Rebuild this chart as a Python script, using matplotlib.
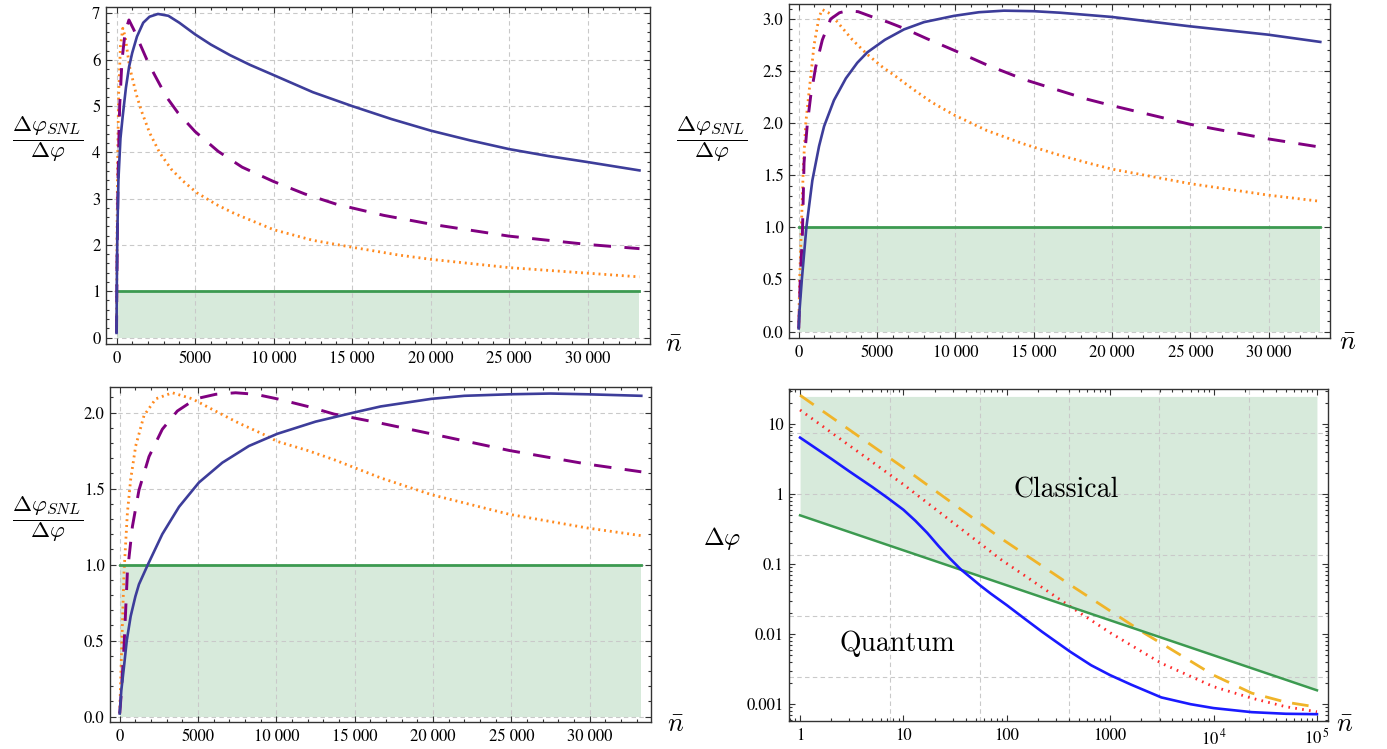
import matplotlib
matplotlib.use("Agg")
import matplotlib.pyplot as plt
from matplotlib.ticker import MultipleLocator, FixedLocator, FuncFormatter, LogLocator, NullFormatter
import numpy as np

# ---------------- data ----------------
# Panel A (top-left)
a_blue_n = [0, 15, 50, 120, 250, 400, 600, 800, 1000, 1300, 1700, 2100, 2640, 3300, 4000, 5000, 6000, 7225, 8500,
            10000, 12500, 15000, 17500, 20000, 22500, 25000, 27500, 30000, 33300]
a_blue_y = [0.1, 1.0, 2.2, 3.4, 4.3, 4.8, 5.4, 5.85, 6.15, 6.5, 6.8, 6.93, 6.99, 6.95, 6.8, 6.55, 6.33, 6.1, 5.89,
            5.67, 5.3, 5.0, 4.72, 4.47, 4.26, 4.07, 3.92, 3.79, 3.61]
a_purp_n = [0, 30, 100, 200, 350, 550, 790, 1100, 1470, 2000, 2430, 3175, 3920, 5000, 6480, 8000, 10000, 12000,
            14000, 17000, 20000, 25000, 30000, 33300]
a_purp_y = [0.1, 1.5, 3.5, 5.0, 6.0, 6.6, 6.86, 6.65, 6.36, 5.95, 5.67, 5.2, 4.85, 4.45, 4.02, 3.68, 3.37, 3.1,
            2.88, 2.64, 2.45, 2.19, 2.01, 1.92]
a_oran_n = [0, 20, 60, 130, 250, 400, 550, 830, 1260, 1580, 2110, 2750, 3500, 4240, 5100, 6370, 7500, 10000,
            12500, 15000, 18000, 20000, 25000, 30000, 33300]
a_oran_y = [0.1, 1.5, 3.5, 5.2, 6.3, 6.68, 6.5, 5.85, 5.25, 4.9, 4.42, 3.99, 3.63, 3.38, 3.13, 2.87, 2.68, 2.33,
            2.1, 1.95, 1.78, 1.69, 1.51, 1.39, 1.31]

# Panel B (top-right)
b_blue_n = [0, 50, 200, 490, 870, 1300, 1620, 2250, 3010, 3740, 4380, 5500, 6720, 8000, 9910, 11500, 13100,
            15000, 16720, 19970, 24970, 29950, 33300]
b_blue_y = [0.03, 0.2, 0.5, 1.0, 1.45, 1.78, 1.97, 2.22, 2.43, 2.58, 2.68, 2.8, 2.9, 2.97, 3.03, 3.065, 3.08,
            3.075, 3.06, 3.02, 2.93, 2.85, 2.78]
b_purp_n = [0, 100, 236, 340, 555, 765, 1085, 1510, 2040, 2600, 3110, 3800, 4700, 5700, 6720, 8200, 9910, 12000,
            14380, 16500, 18420, 19970, 24970, 29950, 33300]
b_purp_y = [0.03, 0.5, 0.94, 1.62, 2.0, 2.26, 2.54, 2.8, 3.0, 3.06, 3.08, 3.07, 3.02, 2.97, 2.91, 2.81, 2.70,
            2.56, 2.42, 2.32, 2.23, 2.17, 1.99, 1.85, 1.77]
b_oran_n = [0, 60, 170, 300, 450, 660, 980, 1300, 1510, 1900, 2360, 3430, 4380, 5340, 6190, 7260, 8500, 9910,
            12000, 14380, 16500, 18420, 19970, 24970, 29950, 33300]
b_oran_y = [0.03, 0.5, 1.0, 1.6, 2.0, 2.3, 2.75, 3.02, 3.09, 3.06, 2.99, 2.80, 2.66, 2.54, 2.45, 2.33, 2.2, 2.08,
            1.93, 1.80, 1.70, 1.62, 1.56, 1.42, 1.31, 1.25]

# Panel C (bottom-left)
c_blue_n = [0, 100, 275, 450, 700, 1000, 1230, 1800, 2720, 3790, 5060, 6550, 8250, 10060, 12500, 14950, 16660,
            19890, 22000, 24890, 27500, 29890, 33300]
c_blue_y = [0.02, 0.17, 0.33, 0.5, 0.66, 0.79, 0.87, 1.0, 1.2, 1.38, 1.54, 1.67, 1.78, 1.86, 1.94, 2.0, 2.04,
            2.09, 2.11, 2.12, 2.125, 2.12, 2.11]
c_purp_n = [0, 100, 275, 490, 810, 1230, 1870, 2720, 3680, 4850, 6130, 7400, 8680, 10060, 12000, 13680, 16660,
            19890, 24890, 29890, 33300]
c_purp_y = [0.02, 0.15, 0.46, 0.95, 1.25, 1.49, 1.71, 1.89, 2.01, 2.09, 2.12, 2.13, 2.12, 2.09, 2.04, 1.99, 1.93,
            1.86, 1.75, 1.66, 1.61]
c_oran_n = [0, 80, 170, 275, 490, 700, 1020, 1550, 2300, 3360, 4640, 5920, 7610, 9110, 10060, 12000, 13680,
            16660, 19890, 24890, 29890, 33300]
c_oran_y = [0.02, 0.3, 0.6, 0.95, 1.34, 1.56, 1.78, 1.98, 2.09, 2.13, 2.09, 2.02, 1.93, 1.86, 1.81, 1.75, 1.69,
            1.57, 1.46, 1.33, 1.24, 1.19]

snl_n = [0, 33300]
snl_y = [1.0, 1.0]

# Panel D (bottom-right, log-log)
d_blue_n = [1, 1.5, 2, 3, 5, 7, 10, 13, 17, 22, 28, 35.7, 45, 56, 70, 100, 150, 220, 300, 412, 655, 1000, 1600,
            3126, 6000, 10000, 23400, 50000, 100000]
d_blue_y = [6.45, 4.3, 3.22, 2.12, 1.27, 0.89, 0.6, 0.42, 0.28, 0.18, 0.122, 0.085, 0.064, 0.049, 0.038, 0.026,
            0.0165, 0.0108, 0.0078, 0.0056, 0.0036, 0.0026, 0.0019, 0.00125, 0.001, 0.00088, 0.00077, 0.00073,
            0.00072]
d_red_n = [1, 10, 87.6, 412, 1000, 3126, 10000, 23400, 50000, 100000]
d_red_y = [16, 1.38, 0.117, 0.0248, 0.0105, 0.00385, 0.00178, 0.00122, 0.00092, 0.00078]
d_oran_n = [1, 10, 87.6, 412, 2150, 3126, 10000, 23400, 50000, 100000]
d_oran_y = [26, 2.4, 0.235, 0.0506, 0.0103, 0.0074, 0.0026, 0.00144, 0.00107, 0.00091]
d_snl_n = [1, 100000]
d_snl_y = [0.5, 0.00158]
d_fill_top = 25.0

x_lin_ticks = [0, 5000, 10000, 15000, 20000, 25000, 30000]
x_log_ticks = [1, 10, 100, 1000, 1e4, 1e5]
x_log_labels = ["1", "10", "100", "1000", r"$10^{\,4}$", r"$10^{\,5}$"]
y_log_ticks = [0.001, 0.01, 0.1, 1, 10]
y_log_labels = ["0.001", "0.01", "0.1", "1", "10"]

# ---------------- style ----------------
C_BLUE = "#3d3d9a"
C_PURP = "#800080"
C_ORAN = "#ff8a1f"
C_GREEN = "#3c9a50"
C_FILL = "#d7eadb"
C_GRID = "#c9c9c9"
C_FRAME = "#333333"
TICKFONT = "STIXGeneral"

W, H = 1387, 749
fig = plt.figure(figsize=(W / 100, H / 100), dpi=100)


def px_rect(l, t, r, b):
    return [l / W, 1 - b / H, (r - l) / W, (b - t) / H]


def style_axes(ax):
    for s in ax.spines.values():
        s.set_color(C_FRAME)
        s.set_linewidth(1.0)
    ax.tick_params(which="both", direction="in", top=True, right=True, colors=C_FRAME,
                   labelcolor="black", labelsize=12, width=0.8)
    ax.tick_params(which="major", length=4)
    ax.tick_params(which="minor", length=2.2)
    ax.tick_params(axis="x", pad=5)
    ax.tick_params(axis="y", pad=4)
    for lab in ax.get_xticklabels() + ax.get_yticklabels():
        lab.set_fontfamily(TICKFONT)


def grid_lines(ax, xs, ys):
    for x in xs:
        ax.axvline(x, color=C_GRID, lw=0.8, ls=(0, (4, 3)), zorder=1)
    for y in ys:
        ax.axhline(y, color=C_GRID, lw=0.8, ls=(0, (4, 3)), zorder=1)


def xfmt(v, pos):
    v = int(round(v))
    if v >= 10000:
        return "%d %03d" % (v // 1000, v % 1000)
    return "%d" % v


def linear_panel(rect, xlim, ylim, ymajor, yminor, yfmt, blue, purp, oran):
    ax = fig.add_axes(rect)
    ax.set_xlim(*xlim)
    ax.set_ylim(*ylim)
    ax.fill_between(snl_n, [0, 0], snl_y, color=C_FILL, lw=0, zorder=0.5)
    yt = np.arange(0, ylim[1] + 1e-9, ymajor)
    grid_lines(ax, x_lin_ticks, yt)
    ax.plot(*oran, color=C_ORAN, lw=2.0, ls=(0, (0.7, 1.4)), zorder=3)
    ax.plot(*purp, color=C_PURP, lw=2.1, ls=(0, (6, 4.6)), zorder=3.2)
    ax.plot(*blue, color=C_BLUE, lw=1.9, zorder=3.4)
    ax.plot(snl_n, snl_y, color=C_GREEN, lw=2.0, zorder=3.1)
    ax.xaxis.set_major_locator(FixedLocator(x_lin_ticks))
    ax.xaxis.set_minor_locator(MultipleLocator(1000))
    ax.xaxis.set_major_formatter(FuncFormatter(xfmt))
    ax.yaxis.set_major_locator(MultipleLocator(ymajor))
    ax.yaxis.set_minor_locator(MultipleLocator(yminor))
    ax.yaxis.set_major_formatter(FuncFormatter(yfmt))
    style_axes(ax)
    return ax


int_fmt = lambda v, p: "%d" % round(v)
dec_fmt = lambda v, p: "%.1f" % v

axA = linear_panel(px_rect(106, 7, 650, 344), (-670, 33970), (-0.14, 7.14), 1, 0.2, int_fmt,
                   (a_blue_n, a_blue_y), (a_purp_n, a_purp_y), (a_oran_n, a_oran_y))
axB = linear_panel(px_rect(789, 4, 1330, 338), (-620, 33920), (-0.062, 3.144), 0.5, 0.1, dec_fmt,
                   (b_blue_n, b_blue_y), (b_purp_n, b_purp_y), (b_oran_n, b_oran_y))
axC = linear_panel(px_rect(110, 387, 651, 722), (-620, 33920), (-0.036, 2.168), 0.5, 0.1, dec_fmt,
                   (c_blue_n, c_blue_y), (c_purp_n, c_purp_y), (c_oran_n, c_oran_y))

# Panel D
axD = fig.add_axes(px_rect(789, 389, 1328, 721))
axD.set_xscale("log")
axD.set_yscale("log")
axD.set_xlim(10 ** -0.107, 10 ** 5.107)
axD.set_ylim(10 ** -3.24, 10 ** 1.504)
axD.fill_between(d_snl_n, d_snl_y, [d_fill_top, d_fill_top], color=C_FILL, lw=0, zorder=0.5)
grid_lines(axD, np.exp(np.arange(2, 11, 2)), np.exp(np.arange(-6, 3, 2)))
axD.plot(d_oran_n, d_oran_y, color="#f0b429", lw=2.0, ls=(0, (6, 4)), zorder=3)
axD.plot(d_red_n, d_red_y, color="#ff2a2a", lw=2.0, ls=(0, (0.6, 1.9)), zorder=3.1)
axD.plot(d_snl_n, d_snl_y, color=C_GREEN, lw=1.8, zorder=3.2)
axD.plot(d_blue_n, d_blue_y, color="#1a1aff", lw=1.9, zorder=3.3)
axD.xaxis.set_major_locator(FixedLocator(x_log_ticks))
axD.xaxis.set_major_formatter(FuncFormatter(lambda v, p: x_log_labels[x_log_ticks.index(v)] if v in x_log_ticks else ""))
axD.yaxis.set_major_locator(FixedLocator(y_log_ticks))
axD.yaxis.set_major_formatter(FuncFormatter(lambda v, p: y_log_labels[y_log_ticks.index(v)] if v in y_log_ticks else ""))
axD.xaxis.set_minor_locator(LogLocator(base=10, subs=np.arange(2, 10), numticks=20))
axD.yaxis.set_minor_locator(LogLocator(base=10, subs=np.arange(2, 10), numticks=20))
axD.xaxis.set_minor_formatter(NullFormatter())
axD.yaxis.set_minor_formatter(NullFormatter())
style_axes(axD)
for lab in axD.get_xticklabels() + axD.get_yticklabels():
    lab.set_math_fontfamily("stix")

axD.text(375, 1.15, "Classical", fontfamily="cmr10", fontsize=20, ha="center", va="center", zorder=5)
axD.text(8.7, 0.0073, "Quantum", fontfamily="cmr10", fontsize=20, ha="center", va="center", zorder=5)

# labels
ratio_lab = r"$\dfrac{\Delta\varphi_{SNL}}{\Delta\varphi}$"


def ftext(x, y, s, size, **kw):
    fig.text(x / W, 1 - y / H, s, fontsize=size, ha="center", va="center", math_fontfamily="cm", **kw)


ftext(48, 139, ratio_lab, 16.5)
ftext(712, 139, ratio_lab, 16.5)
ftext(48, 519, ratio_lab, 16.5)
ftext(722, 538, r"$\Delta\varphi$", 18)
ftext(674, 345, r"$\bar{n}$", 19)
ftext(1348, 343, r"$\bar{n}$", 19)
ftext(676, 725, r"$\bar{n}$", 19)
ftext(1345, 725, r"$\bar{n}$", 19)

fig.savefig("out.png", dpi=100)
